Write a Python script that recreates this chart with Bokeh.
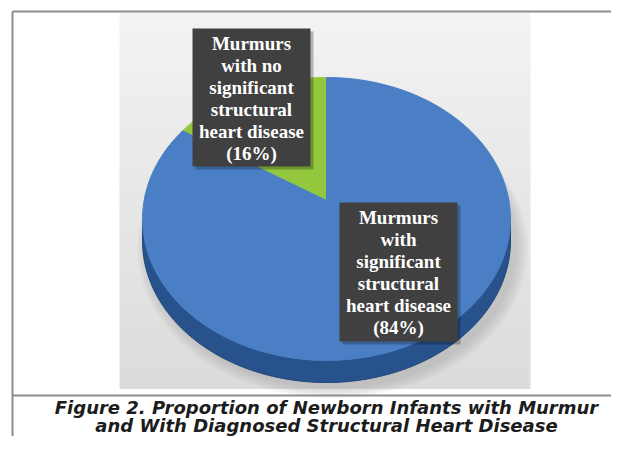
import numpy as np
from bokeh.plotting import figure
from bokeh.models import Range1d
from bokeh.core.properties import value
from bokeh.embed import file_html
from bokeh.resources import INLINE

# ---------------- data ----------------
categories = [
    "Murmurs with no significant structural heart disease",
    "Murmurs with significant structural heart disease",
]
shares = [16, 84]
slice_colors = ["#93c83e", "#4a7fc5"]
label_lines = [
    ["Murmurs", "with no", "significant", "structural", "heart disease", "(16%)"],
    ["Murmurs", "with", "significant", "structural", "heart disease", "(84%)"],
]
caption_lines = [
    "Figure 2. Proportion of Newborn Infants with Murmur",
    "and With Diagnosed Structural Heart Disease",
]

# ---------------- layout (pixel space of the reference) ----------------
W, H = 611, 436
p = figure(width=W, height=H, x_range=Range1d(0, W), y_range=Range1d(H, 0),
           output_backend="svg", toolbar_location=None, min_border=0)
p.axis.visible = False
p.grid.visible = False
p.outline_line_color = None
p.background_fill_color = "white"
p.border_fill_color = "white"

# gradient panel behind the pie
PX0, PX1, PY0, PY1 = 119, 530, 12, 388
n = 40
edges = np.linspace(PY0, PY1, n + 1)
c0 = np.array([243, 243, 243])
c1 = np.array([220, 220, 220])
cols = []
for i in range(n):
    f = i / (n - 1)
    c = (c0 * (1 - f) + c1 * f).astype(int)
    cols.append("#%02x%02x%02x" % tuple(c))
p.quad(left=[PX0] * n, right=[PX1] * n, top=list(edges[:-1]), bottom=list(edges[1:] + 0.6),
       fill_color=cols, line_color=None)

# pie geometry (perspective-projected disc)
CX, CY = 326, 200
A, B, E = 182.4, 139.1, 0.1307
DEPTH = 22


def proj(theta_deg, dx=0.0, dy=0.0, scale=1.0):
    t = np.radians(theta_deg)
    u, v = np.cos(t), np.sin(t)
    s = 1 + E * v
    return CX + dx + scale * A * u / s, CY + dy - scale * B * v / s


# soft shadow
for k in range(6):
    th = np.linspace(0, 360, 200)
    sx, sy = proj(th, dx=6, dy=DEPTH + 6, scale=1.0 + 0.012 * k)
    p.patch(list(sx), list(sy), fill_color="#9a9a9a", fill_alpha=0.08, line_color=None)

# side of the disc
tl = 180 + np.degrees(np.arcsin(E))
tr = 360 - np.degrees(np.arcsin(E))
th = np.linspace(tl, tr, 160)
ex, ey = proj(th)
side_x = list(ex) + list(ex[::-1])
side_y = list(ey) + list((ey + DEPTH)[::-1])
p.patch(side_x, side_y, fill_color="#27528c", line_color="#1f467a", line_width=1)

# top face slices
start = 90.0
xs_all, ys_all = [], []
for sh in shares:
    end = start + sh / 100.0 * 360.0
    th = np.linspace(start, end, 100)
    sx, sy = proj(th)
    xs_all.append([CX] + list(sx))
    ys_all.append([CY] + list(sy))
    start = end
p.patches(xs_all, ys_all, fill_color=slice_colors, line_color=slice_colors, line_width=1)

# label boxes
boxes = [(192, 310, 28, 166), (339, 457, 202, 341)]
for (l, r, t, b) in boxes:
    p.quad(left=[l + 3], right=[r + 3], top=[t + 3], bottom=[b + 3],
           fill_color="black", fill_alpha=0.25, line_color=None)
p.quad(left=[b[0] for b in boxes], right=[b[1] for b in boxes],
       top=[b[2] for b in boxes], bottom=[b[3] for b in boxes],
       fill_color="#404040", line_color=None)

LINE = 22
for (l, r, t, b), lines in zip(boxes, label_lines):
    xc = (l + r) / 2
    y0 = t + 15
    p.text(x=[xc] * len(lines), y=[y0 + i * LINE for i in range(len(lines))], text=lines,
           text_font=value("Liberation Serif"), text_font_style="bold",
           text_font_size="19px", text_color="white",
           text_align="center", text_baseline="middle")

# frame lines
p.line([12, 640], [11, 11], line_color="#8e8e8e", line_width=2)
p.line([12, 12], [11, 460], line_color="#8e8e8e", line_width=2)
p.line([12, 640], [395, 395], line_color="#8e8e8e", line_width=2)

# caption
p.text(x=[326, 326], y=[407, 425], text=caption_lines,
       text_font=value("DejaVu Sans"), text_font_style="bold italic",
       text_font_size="18px", text_color="#1c1c1c",
       text_align="center", text_baseline="middle")

open("out.html", "w").write(file_html(p, INLINE))
